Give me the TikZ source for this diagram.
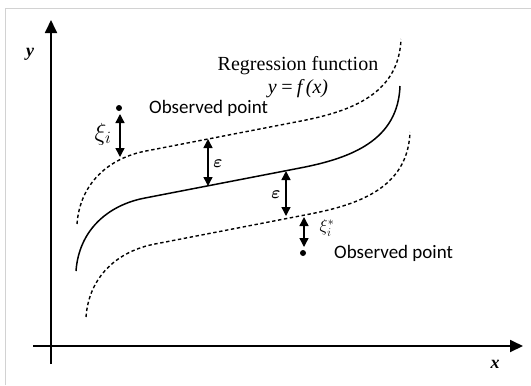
\documentclass[tikz,border=0pt]{standalone}
\usepackage{fontspec}
\usepackage{amsmath,bm}
\setmainfont{Liberation Serif}
\newfontfamily\obsfont{Carlito}
\usetikzlibrary{arrows.meta}
\definecolor{framegray}{RGB}{210,210,210}
\tikzset{
  axisline/.style={line width=1.8bp,-{Triangle[length=13bp,width=12bp]}},
  curveline/.style={line width=1.5bp},
  bandline/.style={line width=1.4bp,dash pattern=on 3.4bp off 2.6bp},
  dblarrow/.style={line width=1.4bp,{Triangle[length=9bp,width=9bp]}-{Triangle[length=9bp,width=9bp]}},
  obslabel/.style={font=\obsfont\fontsize{19bp}{22bp}\selectfont,anchor=west,inner sep=0pt},
  serlabel/.style={font=\fontsize{20bp}{23bp}\selectfont,inner sep=0pt},
  axislabel/.style={font=\bfseries\itshape\fontsize{18bp}{20bp}\selectfont,inner sep=0pt},
  dot/.style={circle,fill=black,inner sep=0pt,minimum size=6bp}
}
\newcommand{\regpath}{(76,271) .. controls (79,230) and (108,205) .. (145,198) -- (300,168) .. controls (352,158) and (398,140) .. (400,86)}
\begin{document}
\begin{tikzpicture}[x=1bp,y=-1bp]
\useasboundingbox (0,0) rectangle (531,385);
% frame
\draw[framegray,line width=1bp] (5,385) -- (5,8) -- (531,8);
% axes
\coordinate (yb) at (51,364);
\coordinate (yt) at (51,20);
\coordinate (xl) at (33,346);
\coordinate (xr) at (523,346);
\draw[axisline] (yb) -- (yt);
\draw[axisline] (xl) -- (xr);
\node[axislabel] (ylab) at (30,54) {y};
\node[axislabel] (xlab) at (495,364) {x};
% curves
\draw[curveline] \regpath;
\draw[bandline,shift={(1,-47)}] \regpath;
\draw[bandline,shift={(10,46)}] \regpath;
% labels
\node[serlabel] (reg) at (298,66) {Regression function};
\node[serlabel] (fx) at (298,89) {\itshape y\,=\,f\,(x)};
% upper observed point
\node[dot] (p1) at (119,108) {};
\node[obslabel] (o1) at (149,108) {Observed point};
\coordinate (a1t) at (120,114);
\coordinate (a1b) at (120,157);
\draw[dblarrow] (a1t) -- (a1b);
\node[inner sep=0pt,font=\fontsize{27bp}{29bp}\selectfont] (xi1) at (103,134) {$\xi_i$};
% epsilon arrows
\coordinate (e1t) at (208,139);
\coordinate (e1b) at (208,186);
\draw[dblarrow] (e1t) -- (e1b);
\node[inner sep=0pt,font=\fontsize{18bp}{20bp}\selectfont] (eps1) at (218,164) {$\bm{\varepsilon}$};
\coordinate (e2t) at (286,171);
\coordinate (e2b) at (286,216);
\draw[dblarrow] (e2t) -- (e2b);
\node[inner sep=0pt,font=\fontsize{18bp}{20bp}\selectfont] (eps2) at (276,195) {$\bm{\varepsilon}$};
% lower observed point
\coordinate (a2t) at (304,217);
\coordinate (a2b) at (304,247);
\draw[dblarrow] (a2t) -- (a2b);
\node[inner sep=0pt,font=\fontsize{17bp}{19bp}\selectfont] (xi2) at (327,228) {$\xi_i^*$};
\node[dot] (p2) at (303,253) {};
\node[obslabel] (o2) at (334,253) {Observed point};
\end{tikzpicture}
\end{document}
